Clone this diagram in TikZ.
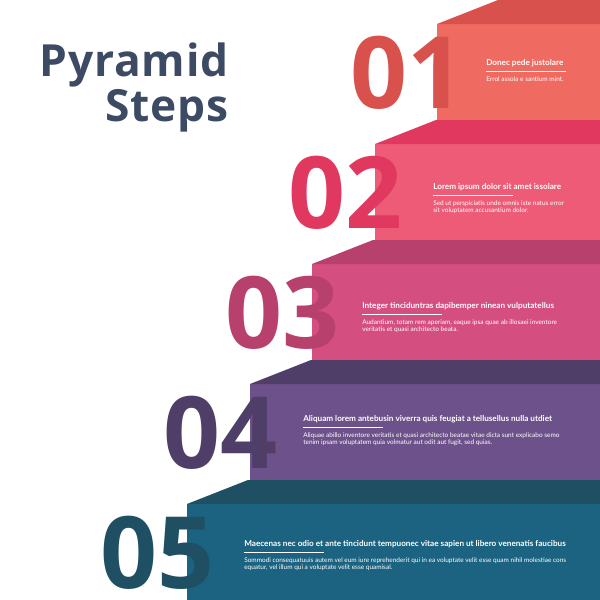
\documentclass[tikz,border=0pt]{standalone}
\usepackage{fontspec}
\setmainfont{Lato}
\newfontfamily\headfont{Open Sans}
\newfontfamily\titlefont{Open Sans}[LetterSpace=2]
\usetikzlibrary{positioning}

\definecolor{titleblue}{HTML}{3D4A63}
\definecolor{facea}{HTML}{EF6B61}
\definecolor{topa}{HTML}{D9514D}
\definecolor{faceb}{HTML}{EE5B76}
\definecolor{topb}{HTML}{E0385E}
\definecolor{facec}{HTML}{D44E80}
\definecolor{topc}{HTML}{B8406C}
\definecolor{faced}{HTML}{6D518A}
\definecolor{topd}{HTML}{4F3F68}
\definecolor{facee}{HTML}{1B6381}
\definecolor{tope}{HTML}{1F4F63}

\begin{document}
\begin{tikzpicture}[x=0.025cm,y=-0.025cm]
  \tikzset{
    titletext/.style={font=\titlefont\bfseries\fontsize{31.5}{32}\selectfont,
      text=titleblue, inner sep=0pt, anchor=base east},
    stepnum/.style={font=\headfont\bfseries\fontsize{71}{71}\selectfont,
      inner sep=0pt, anchor=base east},
    stephead/.style={font=\bfseries\fontsize{5.8}{6}\selectfont,
      text=white, inner sep=0pt, anchor=base west},
    stepbody/.style={font=\fontsize{4.6}{5}\selectfont,
      text=white, inner sep=0pt, align=left},
    headrule/.style={white, line width=0.5pt}
  }
  \useasboundingbox (0,0) rectangle (600,600);

  % title
  \node[titletext] (title1) at (229,76) {Pyramid};
  \node[titletext] (title2) at ([yshift=-32pt]title1.base east) {Steps};

  % the five steps, top one first
  \foreach \i/\lx/\ty/\fc/\tc in {1/437/0/facea/topa,2/375/120/faceb/topb,
    3/312/240/facec/topc,4/250/360/faced/topd,5/187/480/facee/tope}
  {
    \fill[\fc] (\lx,\ty+24) rectangle (600,\ty+120);
    \fill[\tc] (\lx,\ty+24) -- (\lx+61,\ty) -- (600,\ty) -- (600,\ty+24) -- cycle;
    \node[stepnum, text=\tc] (num\i) at (\lx+28,\ty+108) {0\i};
  }

  % texts on the front faces
  \node[stephead] (head1) at (486,65.5) {Donec pede justolare};
  \node[stepbody, below right=8pt and 0pt of head1.base west] (body1)
    {Errol assola e santium mint.};

  \node[stephead] (head2) at (433,189.5) {Lorem ipsum dolor sit amet issolare};
  \node[stepbody, below right=8pt and 0pt of head2.base west] (body2)
    {Sed ut perspiciatis unde omnis iste natus error\\
     sit voluptatem accusantium dolor.};

  \node[stephead] (head3) at (362,308.5)
    {Integer tinciduntras dapibemper ninean vulputatellus};
  \node[stepbody, below right=8pt and 0pt of head3.base west] (body3)
    {Audantium, totam rem aperiam, eaque ipsa quae ab illosaei inventore\\
     veritatis et quasi architecto beata.};

  \node[stephead] (head4) at (303,421.5)
    {Aliquam lorem antebusin viverra quis feugiat a tellusellus nulla utdiet};
  \node[stepbody, below right=8pt and 0pt of head4.base west] (body4)
    {Aliquae abillo inventore veritatis et quasi architecto beatae vitae dicta sunt explicabo semo\\
     tenim ipsam voluptatem quia volmatur aut odit aut fugit, sed quias.};

  \node[stephead] (head5) at (244,546.5)
    {Maecenas nec odio et ante tincidunt tempuonec vitae sapien ut libero venenatis faucibus};
  \node[stepbody, below right=8pt and 0pt of head5.base west] (body5)
    {Sommodi consequatuuis autem vel eum iure reprehenderit qui in ea voluptate velit esse quam nihil molestiae cons\\
     equatur, vel illum qui a voluptate velit esse quamisal.};

  % short rules under the headings
  \foreach \i in {1,...,5}
    \draw[headrule] ([yshift=-3.9pt]head\i.base west) -- ++(80,0);
\end{tikzpicture}
\end{document}
